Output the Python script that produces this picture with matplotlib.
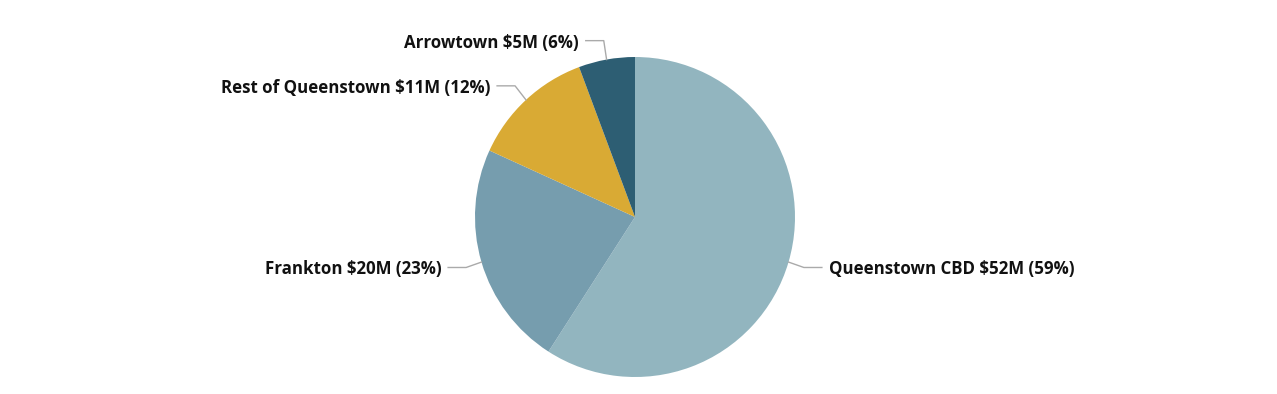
import numpy as np
from matplotlib import pyplot as plt

# revenue by area ($M)
areas = ["Queenstown CBD", "Frankton", "Rest of Queenstown", "Arrowtown"]
values = [52, 20, 11, 5]
percents = [59, 23, 12, 6]
colors = ["#92B5BF", "#769DAE", "#D9AA34", "#2D5E73"]

W, H = 1277, 394
fig = plt.figure(figsize=(W / 100, H / 100), dpi=100)
ax = fig.add_axes([0, 0, 1, 1])

cx, cy, r = 635, H - 217, 160
wedges, _ = ax.pie(values, radius=r, center=(cx, cy), startangle=90,
                   counterclock=False, colors=colors,
                   wedgeprops=dict(linewidth=0))
ax.set_xlim(0, W)
ax.set_ylim(0, H)
ax.set_axis_off()

#leader lines + labels
for w, name, v, p in zip(wedges, areas, values, percents):
    mid = np.deg2rad((w.theta1 + w.theta2) / 2)
    dx, dy = np.cos(mid), np.sin(mid)
    x0, y0 = cx + r * dx, cy + r * dy
    x1, y1 = cx + r * 1.1 * dx, cy + r * 1.12 * dy
    side = 1 if dx > 0 else -1
    x2 = x1 + side * 18
    ax.plot([x0, x1, x2], [y0, y1, y1], color="#AAAAAA", lw=1)
    ax.text(x2 + side * 7, y1 - 2, f"{name} ${v}M ({p}%)",
            ha="left" if side > 0 else "right", va="center",
            fontsize=12.2, fontweight="bold", family="Open Sans", color="#111111")

fig.savefig("out.png", dpi=100)
